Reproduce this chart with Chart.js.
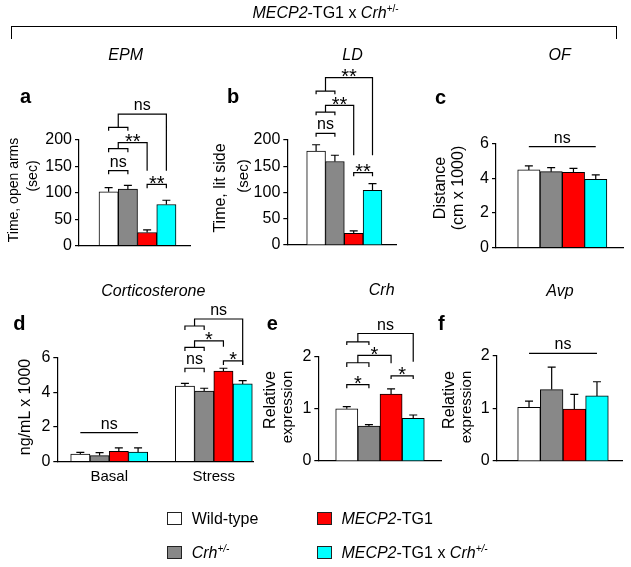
<!DOCTYPE html>
<html><head><meta charset="utf-8">
<script src="https://cdn.jsdelivr.net/npm/chart.js@4.4.0/dist/chart.umd.min.js"></script>
<style>
html,body{margin:0;padding:0;background:#fff;}
#wrap{position:relative;width:631px;height:567px;overflow:hidden;font-family:"Liberation Sans",Arial,Helvetica,sans-serif;color:#000;background:#fff;}
#wrap canvas{position:absolute;left:0;top:0;}
.t{position:absolute;white-space:nowrap;}
.sup{position:relative;top:-6px;font-size:10px;}
.box{position:absolute;width:15px;height:13px;box-sizing:border-box;border:1px solid #222;}
</style></head><body><div id="wrap"></div>
<script>
const FONT = '"Liberation Sans", Arial, Helvetica, sans-serif';
const W = 631, H = 567;
const Y_AXIS_W = 40, X_AXIS_H = 30;

// ---- data ----
const groups = ['Wild-type', 'Crh+/-', 'MECP2-TG1', 'MECP2-TG1 x Crh+/-'];
const groupColors = ['#ffffff', '#888888', '#ff0000', '#00ffff'];

const epmMean = [102, 107, 25, 78];
const epmSem  = [8, 7, 5, 8];
const ldMean  = [179, 159, 22, 104];
const ldSem   = [12, 12, 5, 13];
const ofMean  = [4.47, 4.37, 4.33, 3.93];
const ofSem   = [0.23, 0.23, 0.23, 0.25];

const corticoCats   = ['Basal', 'Stress'];
const corticoWT     = [0.44, 4.35];
const corticoCrh    = [0.35, 4.06];
const corticoTG1    = [0.59, 5.21];
const corticoTG1Crh = [0.56, 4.47];
const corticoSemWT     = [0.10, 0.15];
const corticoSemCrh    = [0.17, 0.16];
const corticoSemTG1    = [0.21, 0.16];
const corticoSemTG1Crh = [0.24, 0.19];

const crhMean = [1.0, 0.67, 1.28, 0.815];
const crhSem  = [0.04, 0.025, 0.10, 0.065];
const avpMean = [1.02, 1.36, 0.99, 1.24];
const avpSem  = [0.12, 0.43, 0.28, 0.27];

// significance annotations (value units)
const epmSig = [
  {type:'pair', g:0, a:0, b:1, y:142, tick:135, label:'ns'},
  {type:'nest', g:0, y:183.6, tick:176.7, stem:195, to:2, end:142, label:'**'},
  {type:'nest', g:0, y:224, tick:217.7, stem:249, to:3, end:142, label:'ns'},
  {type:'pair', g:0, a:2, b:3, y:116, tick:108.5, label:'**'}
];
const ldSig = [
  {type:'pair', g:0, a:0, b:1, y:212.7, tick:206, label:'ns'},
  {type:'nest', g:0, y:253, tick:247, stem:266, to:2, end:171, label:'**'},
  {type:'nest', g:0, y:293, tick:287, stem:319, to:3, end:171, label:'**'},
  {type:'pair', g:0, a:2, b:3, y:138, tick:131, label:'**'}
];
const ofSig = [{type:'line', g:0, a:0, b:3, y:5.81, label:'ns'}];
const corticoSig = [
  {type:'line', g:0, a:0, b:3, y:1.67, label:'ns'},
  {type:'pair', g:1, a:0, b:1, y:5.37, tick:5.14, label:'ns'},
  {type:'nest', g:1, y:6.57, tick:6.36, stem:6.94, to:2, end:6.6, label:'*'},
  {type:'nest', g:1, y:7.8, tick:7.57, stem:8.2, to:3, end:5.56, label:'ns'},
  {type:'pair', g:1, a:2, b:3, y:5.79, tick:5.56, label:'*'}
];
const crhSig = [
  {type:'pair', g:0, a:0, b:1, y:1.46, tick:1.39, label:'*'},
  {type:'nest', g:0, y:1.88, tick:1.80, stem:2.02, to:2, end:1.87, label:'*'},
  {type:'nest', g:0, y:2.28, tick:2.22, stem:2.44, to:3, end:1.9, label:'ns'},
  {type:'pair', g:0, a:2, b:3, y:1.63, tick:1.57, label:'*'}
];
const avpSig = [{type:'line', g:0, a:0, b:3, y:2.05, label:'ns'}];

// ---- annotation plugin: error bars + significance brackets ----
const annotPlugin = {
  id: 'annot',
  afterDatasetsDraw(chart, args, opts) {
    const ctx = chart.ctx, ys = chart.scales.y;
    const Y = v => ys.getPixelForValue(v);
    ctx.save();
    ctx.strokeStyle = '#000';
    ctx.lineWidth = 1.2;
    ctx.lineCap = 'butt';
    (opts.sem || []).forEach((sems, di) => {
      const meta = chart.getDatasetMeta(di);
      const ds = chart.data.datasets[di];
      meta.data.forEach((bar, i) => {
        const v = ds.data[i].y, e = sems[i];
        const y0 = Y(v), y1 = Y(v + e);
        ctx.beginPath();
        ctx.moveTo(bar.x, y0); ctx.lineTo(bar.x, y1);
        ctx.moveTo(bar.x - 4, y1); ctx.lineTo(bar.x + 4, y1);
        ctx.stroke();
      });
    });
    const cx = (g, k) => chart.getDatasetMeta(k).data[g].x;
    const label = (txt, x, ly) => {
      ctx.fillStyle = '#000';
      ctx.textAlign = 'center';
      ctx.textBaseline = 'alphabetic';
      if (txt.indexOf('*') >= 0) {
        ctx.font = '20px ' + FONT;
        ctx.fillText(txt, x, ly + 5.5);
      } else {
        ctx.font = '16px ' + FONT;
        ctx.fillText(txt, x, ly - 4);
      }
    };
    (opts.brackets || []).forEach(b => {
      if (b.type === 'line') {
        const x1 = cx(b.g, b.a), x2 = cx(b.g, b.b), y = Y(b.y);
        ctx.beginPath(); ctx.moveTo(x1, y); ctx.lineTo(x2, y); ctx.stroke();
        label(b.label, (x1 + x2) / 2, y);
      } else if (b.type === 'pair') {
        const x1 = cx(b.g, b.a), x2 = cx(b.g, b.b), y = Y(b.y), yt = Y(b.tick);
        ctx.beginPath(); ctx.moveTo(x1, yt); ctx.lineTo(x1, y); ctx.lineTo(x2, y); ctx.lineTo(x2, yt); ctx.stroke();
        label(b.label, (x1 + x2) / 2, y);
      } else if (b.type === 'nest') {
        const x0 = cx(b.g, 0), x1 = cx(b.g, 1), xk = cx(b.g, b.to);
        const y = Y(b.y), yt = Y(b.tick), ys2 = Y(b.stem), ye = Y(b.end);
        const xm = (x0 + x1) / 2;
        ctx.beginPath();
        ctx.moveTo(x0, yt); ctx.lineTo(x0, y); ctx.lineTo(x1, y); ctx.lineTo(x1, yt);
        ctx.moveTo(xm, y); ctx.lineTo(xm, ys2); ctx.lineTo(xk, ys2); ctx.lineTo(xk, ye);
        ctx.stroke();
        label(b.label, (xm + xk) / 2, ys2);
      }
    });
    ctx.restore();
  }
};

const wrap = document.getElementById('wrap');

function makePanel(p) {
  const c = document.createElement('canvas');
  c.width = W; c.height = H;
  c.style.width = W + 'px'; c.style.height = H + 'px';
  wrap.appendChild(c);
  const [l, t, r, b] = p.area;
  const xmin = (l - p.center) / p.unit, xmax = (r - p.center) / p.unit;
  const datasets = p.means.map((vals, k) => ({
    label: groups[k],
    data: vals.map((v, i) => ({x: i, y: v})),
    backgroundColor: groupColors[k],
    borderColor: '#000',
    borderWidth: 1,
    borderSkipped: 'start',
    barThickness: p.thick
  }));
  new Chart(c, {
    type: 'bar',
    data: {datasets},
    plugins: [annotPlugin],
    options: {
      responsive: false,
      animation: false,
      events: [],
      layout: {padding: {left: l - Y_AXIS_W, top: t, right: W - r, bottom: H - b - X_AXIS_H}},
      plugins: {
        legend: {display: false},
        tooltip: {enabled: false},
        annot: {sem: p.sems, brackets: p.sig}
      },
      scales: {
        x: {
          type: 'linear', min: xmin, max: xmax, offset: false,
          grid: {display: false, drawTicks: false, offset: false},
          border: {display: true, color: '#000', width: 1.2},
          ticks: {
            display: !!p.cats, stepSize: 1, includeBounds: false, autoSkip: false,
            maxRotation: 0, minRotation: 0, padding: 6, color: '#000',
            font: {family: FONT, size: 15},
            callback: v => (p.cats && p.cats[v] !== undefined) ? p.cats[v] : ''
          },
          afterFit: s => { s.height = X_AXIS_H; }
        },
        y: {
          min: 0, max: p.ymax,
          ticks: {stepSize: p.step, color: '#000', padding: 3, font: {family: FONT, size: 16}},
          grid: {drawOnChartArea: false, color: '#000', lineWidth: 1.2, tickLength: 4, drawTicks: true},
          border: {display: true, color: '#000', width: 1.2},
          afterFit: s => { s.width = Y_AXIS_W; }
        }
      }
    }
  });
}

const wrapSingle = arr => arr.map(v => [v]);

makePanel({area: [79, 140, 190, 245.7], center: 137.5, unit: 100, thick: 19.25, ymax: 200, step: 50,
  means: wrapSingle(epmMean), sems: wrapSingle(epmSem), sig: epmSig});
makePanel({area: [287.3, 140, 396.7, 245], center: 344.3, unit: 100, thick: 18.8, ymax: 200, step: 50,
  means: wrapSingle(ldMean), sems: wrapSingle(ldSem), sig: ldSig});
makePanel({area: [496, 143.3, 623, 247.7], center: 562.3, unit: 100, thick: 22.3, ymax: 6, step: 2,
  means: wrapSingle(ofMean), sems: wrapSingle(ofSem), sig: ofSig});
makePanel({area: [57.3, 357.3, 253, 461.7], center: 109.2, unit: 104.6, thick: 19.25, ymax: 6, step: 2,
  cats: corticoCats,
  means: [corticoWT, corticoCrh, corticoTG1, corticoTG1Crh],
  sems: [corticoSemWT, corticoSemCrh, corticoSemTG1, corticoSemTG1Crh], sig: corticoSig});
makePanel({area: [318.3, 356.5, 441.7, 461], center: 380, unit: 100, thick: 22.15, ymax: 2, step: 1,
  means: wrapSingle(crhMean), sems: wrapSingle(crhSem), sig: crhSig});
makePanel({area: [496.7, 356, 622, 461], center: 563, unit: 100, thick: 22.65, ymax: 2, step: 1,
  means: wrapSingle(avpMean), sems: wrapSingle(avpSem), sig: avpSig});

// ---- text helpers ----
function addText(html, x, baseline, size, o) {
  o = o || {};
  const d = document.createElement('div');
  d.className = 't';
  d.innerHTML = html;
  d.style.fontSize = size + 'px';
  d.style.lineHeight = size + 'px';
  d.style.left = x + 'px';
  d.style.top = (baseline - 0.8465 * size) + 'px';
  if (o.bold) d.style.fontWeight = 'bold';
  if (o.italic) d.style.fontStyle = 'italic';
  if (o.center) d.style.transform = 'translateX(-50%)';
  wrap.appendChild(d);
  return d;
}
function addRot(html, cx, cy, size) {
  const d = document.createElement('div');
  d.className = 't';
  d.innerHTML = html;
  d.style.fontSize = size + 'px';
  d.style.lineHeight = size + 'px';
  d.style.left = cx + 'px';
  d.style.top = cy + 'px';
  d.style.transform = 'translate(-50%,-50%) rotate(-90deg)';
  wrap.appendChild(d);
}

// top title and bracket
addText('<i>MECP2</i>-TG1 x <i>Crh</i><span class="sup">+/-</span>', 325.5, 18.3, 16, {center: true});
const br = document.createElement('div');
br.style.cssText = 'position:absolute;left:11px;top:26px;width:606px;height:13px;box-sizing:border-box;border:1.2px solid #000;border-bottom:none;';
wrap.appendChild(br);

// panel titles
addText('EPM', 125.7, 60.7, 16, {italic: true, center: true});
addText('LD', 352.5, 60.7, 16, {italic: true, center: true});
addText('OF', 559.7, 60.7, 16, {italic: true, center: true});
addText('Corticosterone', 153.3, 297, 16, {italic: true, center: true});
addText('Crh', 381.7, 296, 16, {italic: true, center: true});
addText('Avp', 560, 296.5, 16, {italic: true, center: true});

// panel letters
addText('a', 20, 103.3, 20, {bold: true});
addText('b', 227, 103.3, 20, {bold: true});
addText('c', 435, 104, 20, {bold: true});
addText('d', 13.3, 330, 20, {bold: true});
addText('e', 266.7, 330, 20, {bold: true});
addText('f', 438, 330, 20, {bold: true});

// y axis titles
addRot('Time, open arms', 13.3, 190, 14);
addRot('(sec)', 31.7, 176, 14);
addRot('Time, lit side', 220, 188.3, 16);
addRot('(sec)', 241.7, 175.7, 15);
addRot('Distance', 440, 187.5, 16);
addRot('(cm x 1000)', 458, 188, 16);
addRot('ng/mL x 1000', 25, 406.7, 16);
addRot('Relative', 270, 400, 16);
addRot('expression', 286, 406.7, 15);
addRot('Relative', 449, 400, 16);
addRot('expression', 465, 406.7, 15);

// legend
const legendLabels = [
  'Wild-type',
  '<i>Crh</i><span class="sup"><i>+/-</i></span>',
  '<i>MECP2</i>-TG1',
  '<i>MECP2</i>-TG1 x <i>Crh</i><span class="sup"><i>+/-</i></span>'
];
const legPos = [[167, 512, 525], [167, 546, 559], [316.7, 512, 525], [316.7, 546, 559]];
legendLabels.forEach((lab, k) => {
  const [bx, by, base] = legPos[k];
  const b = document.createElement('div');
  b.className = 'box';
  b.style.left = bx + 'px'; b.style.top = by + 'px';
  b.style.background = groupColors[k];
  wrap.appendChild(b);
  addText(lab, bx + 24.7, base, 16);
});
</script>
</body></html>
